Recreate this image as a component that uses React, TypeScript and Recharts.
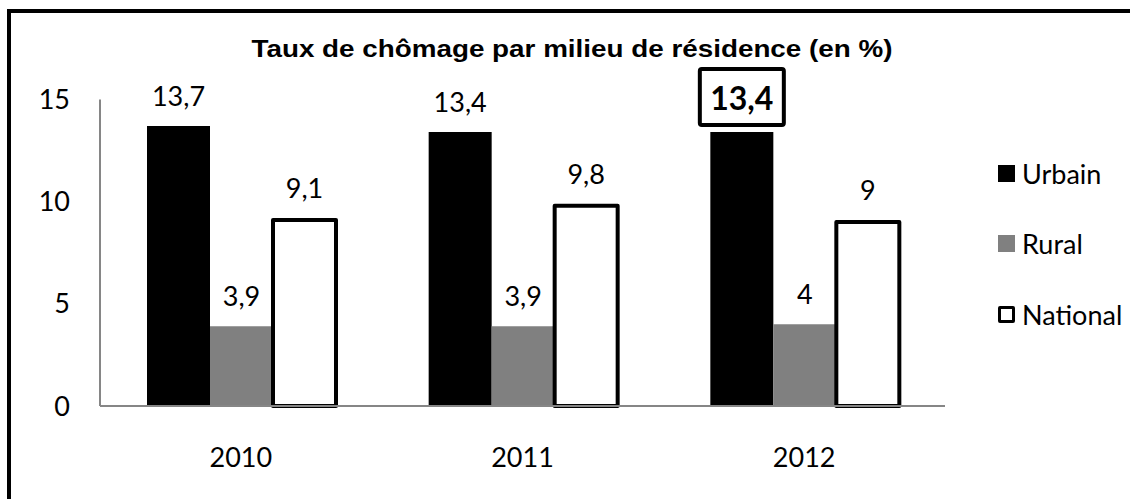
import React from "react";
import { BarChart, Bar, XAxis, YAxis, Legend, LabelList } from "recharts";

const years = ["2010", "2011", "2012"];
const urbain = [13.7, 13.4, 13.4];
const rural = [3.9, 3.9, 4];
const national = [9.1, 9.8, 9];
const yTicks = [0, 5, 10, 15];
const highlightIndex = 2;

const data = years.map((year, i) => ({
  year,
  urbain: urbain[i],
  rural: rural[i],
  national: national[i],
}));

const FONT = "Lato, 'Open Sans', sans-serif";
const fmt = (v: number) => String(v).replace(".", ",");

const legendItems = [
  { name: "Urbain", fill: "#000", stroke: "none" },
  { name: "Rural", fill: "#808080", stroke: "none" },
  { name: "National", fill: "#fff", stroke: "#000" },
];

function renderLegend() {
  return (
    <div style={{ fontFamily: FONT, fontSize: 27, color: "#000" }}>
      {legendItems.map((it) => (
        <div
          key={it.name}
          style={{ display: "flex", alignItems: "center", height: 70.5 }}
        >
          <span
            style={{
              display: "inline-block",
              width: it.stroke === "none" ? 17 : 11,
              height: it.stroke === "none" ? 17 : 11,
              background: it.fill,
              border: it.stroke === "none" ? "none" : "3px solid #000",
              borderRadius: it.stroke === "none" ? 0 : 2,
              marginRight: 7,
            }}
          />
          <span>{it.name}</span>
        </div>
      ))}
    </div>
  );
}

function UrbainLabel(props: any) {
  const { x, y, width, value, index } = props;
  const cx = x + width / 2;
  if (index === highlightIndex) {
    return (
      <g>
        <rect
          x={cx - 42}
          y={y - 63}
          width={84}
          height={56}
          fill="#fff"
          stroke="#000"
          strokeWidth={4}
          rx={2}
        />
        <text
          x={cx}
          y={y - 35}
          textAnchor="middle"
          dominantBaseline="central"
          fontFamily={FONT}
          fontWeight={700}
          fontSize={32}
          fill="#000"
        >
          {fmt(value)}
        </text>
      </g>
    );
  }
  return (
    <text
      x={cx}
      y={y - 20}
      textAnchor="middle"
      fontFamily={FONT}
      fontSize={27}
      fill="#000"
    >
      {fmt(value)}
    </text>
  );
}

export default function App() {
  return (
    <div
      style={{
        position: "fixed",
        left: 0,
        top: 0,
        width: 1130,
        height: 499,
        overflow: "hidden",
        background: "#fff",
      }}
    >
      <div
        style={{
          position: "absolute",
          left: 7,
          top: 9,
          width: 1200,
          height: 600,
          border: "4px solid #000",
        }}
      />
      <div style={{ position: "absolute", left: 0, top: 0 }}>
        <BarChart
          width={1130}
          height={499}
          data={data}
          margin={{ top: 99.4, right: 185, bottom: 33, left: 0 }}
          barCategoryGap={47}
          barGap={0}
        >
          <text
            x={572}
            y={48}
            textAnchor="middle"
            dominantBaseline="central"
            fontFamily="'Liberation Sans', Arial, sans-serif"
            fontWeight={700}
            fontSize={24}
            textLength={641}
            lengthAdjust="spacingAndGlyphs"
            fill="#000"
          >
            Taux de chômage par milieu de résidence (en %)
          </text>
          <XAxis
            dataKey="year"
            axisLine={{ stroke: "#868686", strokeWidth: 2 }}
            tickLine={false}
            tickSize={0}
            tickMargin={42}
            height={60}
            tick={{ fontFamily: FONT, fontSize: 27, fill: "#000" }}
          />
          <YAxis
            domain={[0, 15]}
            ticks={yTicks}
            width={100}
            axisLine={{ stroke: "#868686", strokeWidth: 2 }}
            tickLine={false}
            tickSize={0}
            tickMargin={30}
            tick={{ fontFamily: FONT, fontSize: 27, fill: "#000" }}
          />
          <Legend
            layout="horizontal"
            verticalAlign="middle"
            align="center"
            content={renderLegend}
            wrapperStyle={{ left: 998, top: 138, width: 132 }}
          />
          <Bar dataKey="urbain" name="Urbain" fill="#000" isAnimationActive={false}>
            <LabelList dataKey="urbain" content={UrbainLabel} />
          </Bar>
          <Bar dataKey="rural" name="Rural" fill="#808080" isAnimationActive={false}>
            <LabelList
              dataKey="rural"
              position="top"
              offset={20}
              formatter={(v: any) => fmt(v)}
              style={{ fontFamily: FONT, fontSize: 27, fill: "#000" }}
            />
          </Bar>
          <Bar
            dataKey="national"
            name="National"
            fill="#fff"
            stroke="#000"
            strokeWidth={4}
            strokeLinejoin="round"
            isAnimationActive={false}
          >
            <LabelList
              dataKey="national"
              position="top"
              offset={22}
              formatter={(v: any) => fmt(v)}
              style={{ fontFamily: FONT, fontSize: 27, fill: "#000" }}
            />
          </Bar>
        </BarChart>
      </div>
    </div>
  );
}
